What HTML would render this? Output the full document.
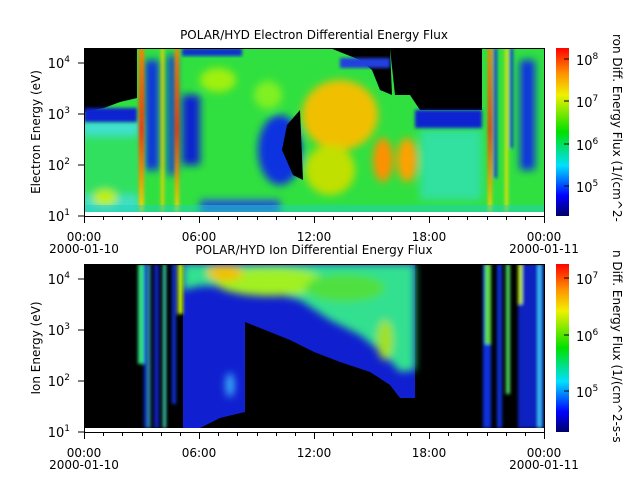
<!DOCTYPE html>
<html><head><style>
body{margin:0;background:#fff;}
svg{display:block;font-family:"DejaVu Sans","Liberation Sans",sans-serif;}
</style></head><body>
<svg width="640" height="480" viewBox="0 0 640 480" xmlns="http://www.w3.org/2000/svg">
<defs>
<linearGradient id="cb" x1="0" y1="1" x2="0" y2="0">
<stop offset="0" stop-color="#00006a"/><stop offset="0.12" stop-color="#0000ff"/>
<stop offset="0.3" stop-color="#00e0ff"/><stop offset="0.5" stop-color="#00e000"/>
<stop offset="0.72" stop-color="#f0f000"/><stop offset="0.85" stop-color="#ff9000"/>
<stop offset="1" stop-color="#ff0000"/></linearGradient>
<filter id="bl" x="-20%" y="-20%" width="140%" height="140%"><feGaussianBlur stdDeviation="4"/></filter>
<filter id="bs" x="-50%" y="-20%" width="200%" height="140%"><feGaussianBlur stdDeviation="1.5"/></filter>
<clipPath id="c1"><rect x="84" y="48" width="460" height="164"/></clipPath>
<clipPath id="c2"><rect x="84" y="264" width="460" height="164"/></clipPath>
<linearGradient id="stR" x1="0" y1="0" x2="0" y2="1"><stop offset="0" stop-color="#ff8000"/><stop offset=".5" stop-color="#ff3000"/><stop offset="1" stop-color="#f0e000"/></linearGradient>
</defs>

<!-- TOP PANEL -->
<text x="314" y="39" font-size="12" text-anchor="middle">POLAR/HYD  Electron Differential Energy Flux</text>
<g clip-path="url(#c1)">
<rect x="84" y="48" width="460" height="164" fill="#30e040"/>
<g filter="url(#bl)">
<rect x="80" y="130" width="60" height="70" fill="#30e060"/>
<rect x="80" y="120" width="60" height="15" fill="#40e0d0"/>
<rect x="80" y="195" width="60" height="20" fill="#40e0c0"/>
<ellipse cx="105" cy="198" rx="12" ry="8" fill="#c0f000"/>
<rect x="145" y="60" width="14" height="110" fill="#1030e0"/>
<rect x="168" y="55" width="8" height="120" fill="#1030e0"/>
<rect x="182" y="95" width="18" height="70" fill="#1020d0"/>
<ellipse cx="218" cy="80" rx="18" ry="12" fill="#a0f010"/>
<ellipse cx="268" cy="95" rx="14" ry="14" fill="#80f020"/>
<ellipse cx="280" cy="150" rx="22" ry="35" fill="#1030e0"/>
<ellipse cx="340" cy="115" rx="38" ry="35" fill="#f0c000"/>
<ellipse cx="330" cy="170" rx="25" ry="25" fill="#c0e000"/>
<ellipse cx="383" cy="160" rx="10" ry="22" fill="#ff9000"/>
<ellipse cx="407" cy="160" rx="10" ry="22" fill="#ffa000"/>
<rect x="420" y="130" width="62" height="70" fill="#30e0a0"/>
<rect x="520" y="60" width="15" height="110" fill="#1030e0"/>
<rect x="200" y="200" width="80" height="15" fill="#2050e0"/>
</g>
<polygon points="84,48 137,48 137,98 120,102 104,108 84,112" fill="#000"/>
<rect x="84" y="108" width="53" height="14" fill="#1020d0" filter="url(#bs)"/>
<polygon points="287,125 300,110 303,180 293,175 282,150" fill="#000"/>
<polygon points="330,48 390,48 392,95 380,90 372,70 360,60 340,52" fill="#000"/>
<rect x="340" y="58" width="50" height="10" fill="#2040e0" filter="url(#bs)"/>
<polygon points="390,48 482,48 482,110 420,110 410,95 395,95" fill="#000"/>
<rect x="415" y="110" width="67" height="18" fill="#1020d0" filter="url(#bs)"/>
<rect x="182" y="48" width="60" height="8" fill="#1030d0" filter="url(#bs)"/>
<g filter="url(#bs)">
<rect x="139" y="48" width="5" height="164" fill="url(#stR)"/>
<rect x="161" y="48" width="3" height="164" fill="#f0d000"/>
<rect x="175" y="48" width="4" height="164" fill="url(#stR)"/>
<rect x="488" y="48" width="4" height="164" fill="url(#stR)"/>
<rect x="494" y="48" width="3" height="130" fill="#1030e0"/>
<rect x="505" y="48" width="3" height="164" fill="#f0e000"/>
<rect x="510" y="48" width="3" height="100" fill="#1030e0"/>
</g>
<rect x="84" y="205" width="460" height="7" fill="#20d0c0" opacity=".5"/>
</g>
<rect x="84" y="212" width="460" height="4" fill="#fff"/>

<!-- BOTTOM PANEL -->
<text x="314" y="254" font-size="12" text-anchor="middle">POLAR/HYD  Ion Differential Energy Flux</text>
<g clip-path="url(#c2)">
<rect x="84" y="264" width="460" height="164" fill="#000"/>
<polygon points="183,264 415,264 415,398 400,398 390,385 370,372 340,362 314,352 290,340 260,328 245,322 245,412 220,418 200,428 183,428" fill="#1020d0"/>
<g filter="url(#bl)">
<polygon points="183,264 415,264 415,370 400,372 385,355 360,335 330,320 300,300 270,292 240,288 215,286 200,286 183,290" fill="#30e090"/>
<ellipse cx="270" cy="282" rx="55" ry="14" fill="#a0f020"/>
<ellipse cx="225" cy="273" rx="18" ry="8" fill="#f0c000"/>
<ellipse cx="345" cy="288" rx="40" ry="14" fill="#50e040"/>
<ellipse cx="385" cy="340" rx="8" ry="20" fill="#a0e020"/>
<ellipse cx="230" cy="385" rx="4" ry="12" fill="#40c0ff"/>
</g>
<g filter="url(#bs)">
<rect x="138" y="264" width="6" height="100" fill="#30e080"/>
<rect x="144" y="264" width="3" height="164" fill="#1030e0"/>
<rect x="148" y="264" width="2" height="164" fill="#40d0ff"/>
<rect x="154" y="264" width="5" height="164" fill="#1020c0"/>
<rect x="163" y="264" width="3" height="164" fill="#40e0c0"/>
<rect x="172" y="264" width="4" height="140" fill="#1030e0"/>
<rect x="178" y="264" width="5" height="50" fill="#c0f000"/>
<rect x="483" y="264" width="8" height="164" fill="#1030e0"/>
<rect x="485" y="264" width="6" height="80" fill="#60e040"/>
<rect x="497" y="264" width="5" height="164" fill="#1030e0"/>
<rect x="506" y="264" width="4" height="130" fill="#50e060"/>
<rect x="518" y="264" width="26" height="164" fill="#1020c0"/>
<rect x="518" y="264" width="4" height="40" fill="#c0f000"/>
<rect x="538" y="264" width="3" height="164" fill="#40d0ff"/>
</g>
</g>
<rect x="84" y="428" width="460" height="4" fill="#fff"/>

<!-- AXES -->
<g stroke="#000" stroke-width="1" fill="none">
<rect x="84.5" y="48.5" width="460" height="168"/>
<rect x="84.5" y="264.5" width="460" height="168"/>
</g>
<g id="xt" stroke="#000">
<path d="M84.5,216v7M199.5,216v7M314.5,216v7M429.5,216v7M544.5,216v7M103.5,216v4M122.5,216v4M142.5,216v4M161.5,216v4M180.5,216v4M218.5,216v4M237.5,216v4M257.5,216v4M276.5,216v4M295.5,216v4M333.5,216v4M352.5,216v4M372.5,216v4M391.5,216v4M410.5,216v4M448.5,216v4M467.5,216v4M487.5,216v4M506.5,216v4M525.5,216v4"/>
</g>
<use href="#xt" transform="translate(0,216)"/>
<g stroke="#000">
<path d="M84,216h-6M84,165h-6M84,114h-6M84,63h-6M84,432h-6M84,381h-6M84,330h-6M84,279h-6"/>
</g>
<g font-size="12" fill="#000">
<text x="84" y="241" text-anchor="middle">00:00</text><text x="84" y="253" text-anchor="middle">2000-01-10</text>
<text x="199" y="241" text-anchor="middle">06:00</text><text x="314" y="241" text-anchor="middle">12:00</text>
<text x="429" y="241" text-anchor="middle">18:00</text>
<text x="544" y="241" text-anchor="middle">00:00</text><text x="544" y="253" text-anchor="middle">2000-01-11</text>
<text x="84" y="457" text-anchor="middle">00:00</text><text x="84" y="469" text-anchor="middle">2000-01-10</text>
<text x="199" y="457" text-anchor="middle">06:00</text><text x="314" y="457" text-anchor="middle">12:00</text>
<text x="429" y="457" text-anchor="middle">18:00</text>
<text x="544" y="457" text-anchor="middle">00:00</text><text x="544" y="469" text-anchor="middle">2000-01-11</text>
</g>
<g font-size="13" fill="#000" text-anchor="end">
<text x="70" y="221">10<tspan font-size="9" dy="-6">1</tspan></text>
<text x="70" y="170">10<tspan font-size="9" dy="-6">2</tspan></text>
<text x="70" y="119">10<tspan font-size="9" dy="-6">3</tspan></text>
<text x="70" y="68">10<tspan font-size="9" dy="-6">4</tspan></text>
<text x="70" y="437">10<tspan font-size="9" dy="-6">1</tspan></text>
<text x="70" y="386">10<tspan font-size="9" dy="-6">2</tspan></text>
<text x="70" y="335">10<tspan font-size="9" dy="-6">3</tspan></text>
<text x="70" y="284">10<tspan font-size="9" dy="-6">4</tspan></text>
</g>
<text transform="translate(40,132) rotate(-90)" font-size="12" text-anchor="middle">Electron Energy (eV)</text>
<text transform="translate(40,348) rotate(-90)" font-size="12" text-anchor="middle">Ion Energy (eV)</text>

<rect x="556" y="48" width="13" height="168" fill="url(#cb)"/>
<rect x="556" y="264" width="13" height="168" fill="url(#cb)"/>
<g stroke="#000"><path d="M569,59h-5M569,101h-5M569,144h-5M569,186h-5M569,278h-5M569,335h-5M569,391h-5"/></g>
<g font-size="13" fill="#000">
<text x="576" y="65">10<tspan font-size="9" dy="-6">8</tspan></text>
<text x="576" y="107">10<tspan font-size="9" dy="-6">7</tspan></text>
<text x="576" y="150">10<tspan font-size="9" dy="-6">6</tspan></text>
<text x="576" y="192">10<tspan font-size="9" dy="-6">5</tspan></text>
<text x="576" y="284">10<tspan font-size="9" dy="-6">7</tspan></text>
<text x="576" y="341">10<tspan font-size="9" dy="-6">6</tspan></text>
<text x="576" y="397">10<tspan font-size="9" dy="-6">5</tspan></text>
</g>
<text transform="translate(613,34) rotate(90)" font-size="12">ron Diff. Energy Flux (1/(cm^2-</text>
<text transform="translate(613,250) rotate(90)" font-size="12">n Diff. Energy Flux (1/(cm^2-s-s</text>
</svg>
</body></html>
